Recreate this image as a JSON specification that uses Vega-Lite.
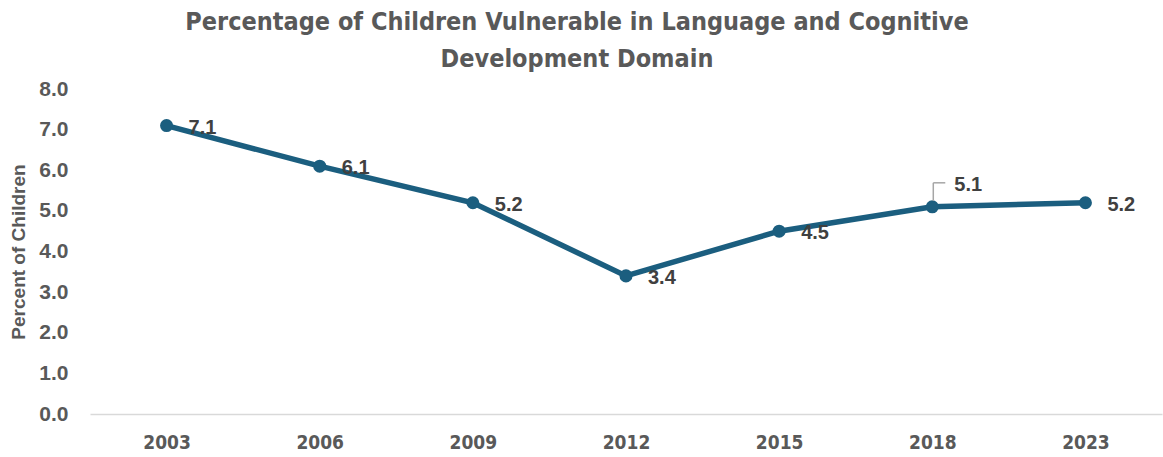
{
  "$schema": "https://vega.github.io/schema/vega-lite/v6.json",
  "autosize": "none",
  "width": 1072,
  "height": 325,
  "padding": {"left": 90, "top": 89, "right": 1, "bottom": 43},
  "background": "white",
  "view": {"stroke": null},
  "title": {
    "text": ["Percentage of Children Vulnerable in Language and Cognitive", "Development  Domain"],
    "font": "Liberation Sans Narrow, DejaVu Sans Condensed, sans-serif",
    "fontSize": 25,
    "fontWeight": "bold",
    "color": "#595959",
    "anchor": "middle",
    "dx": -49,
    "lineHeight": 37,
    "offset": 6
  },
  "data": {
    "values": [
      {"year": "2003", "value": 7.1},
      {"year": "2006", "value": 6.1},
      {"year": "2009", "value": 5.2},
      {"year": "2012", "value": 3.4},
      {"year": "2015", "value": 4.5},
      {"year": "2018", "value": 5.1},
      {"year": "2023", "value": 5.2}
    ]
  },
  "encoding": {
    "x": {
      "field": "year", "type": "ordinal", "sort": null,
      "scale": {"type": "point", "padding": 0.5},
      "axis": {
        "title": null, "labelAngle": 0, "domainColor": "#d9d9d9", "domainWidth": 1.5,
        "ticks": false, "labelPadding": 19,
        "labelFont": "Liberation Sans Narrow, DejaVu Sans Condensed, sans-serif",
        "labelFontSize": 19, "labelFontWeight": "bold", "labelColor": "#595959"
      }
    },
    "y": {
      "field": "value", "type": "quantitative",
      "scale": {"domain": [0, 8]},
      "axis": {
        "title": "Percent of Children", "values": [0,1,2,3,4,5,6,7,8], "format": ".1f",
        "grid": false, "domain": false, "ticks": false, "labelPadding": 22,
        "labelFont": "Liberation Sans, Arial, sans-serif", "labelFontSize": 21,
        "labelFontWeight": "bold", "labelColor": "#595959",
        "titleFont": "Liberation Sans, Arial, sans-serif", "titleFontSize": 19,
        "titleFontWeight": "bold", "titleColor": "#595959", "titlePadding": 10
      }
    }
  },
  "layer": [
    {"mark": {"type": "line", "color": "#1b5e7f", "strokeWidth": 5.5}},
    {"mark": {"type": "point", "filled": true, "color": "#1b5e7f", "size": 170, "opacity": 1}},
    {
      "transform": [{"filter": "datum.year == '2018'"}],
      "mark": {"type": "rule", "color": "#a6a6a6", "strokeWidth": 1.5, "xOffset": 1, "yOffset": -6, "y2Offset": -24},
      "encoding": {"y2": {"field": "value"}}
    },
    {
      "transform": [{"filter": "datum.year == '2018'"}],
      "mark": {"type": "rule", "color": "#a6a6a6", "strokeWidth": 1.5, "xOffset": 1, "x2Offset": 13, "yOffset": -24},
      "encoding": {"x2": {"field": "year"}}
    },
    {
      "transform": [{"filter": "datum.year != '2018'"}],
      "mark": {"type": "text", "align": "left", "dx": 22, "dy": 2, "font": "Liberation Sans, Arial, sans-serif", "fontSize": 20, "fontWeight": "bold", "color": "#404040"},
      "encoding": {"text": {"field": "value", "type": "quantitative", "format": ".1f"}}
    },
    {
      "transform": [{"filter": "datum.year == '2018'"}],
      "mark": {"type": "text", "align": "left", "dx": 22, "dy": -22, "font": "Liberation Sans, Arial, sans-serif", "fontSize": 20, "fontWeight": "bold", "color": "#404040"},
      "encoding": {"text": {"field": "value", "type": "quantitative", "format": ".1f"}}
    }
  ]
}
